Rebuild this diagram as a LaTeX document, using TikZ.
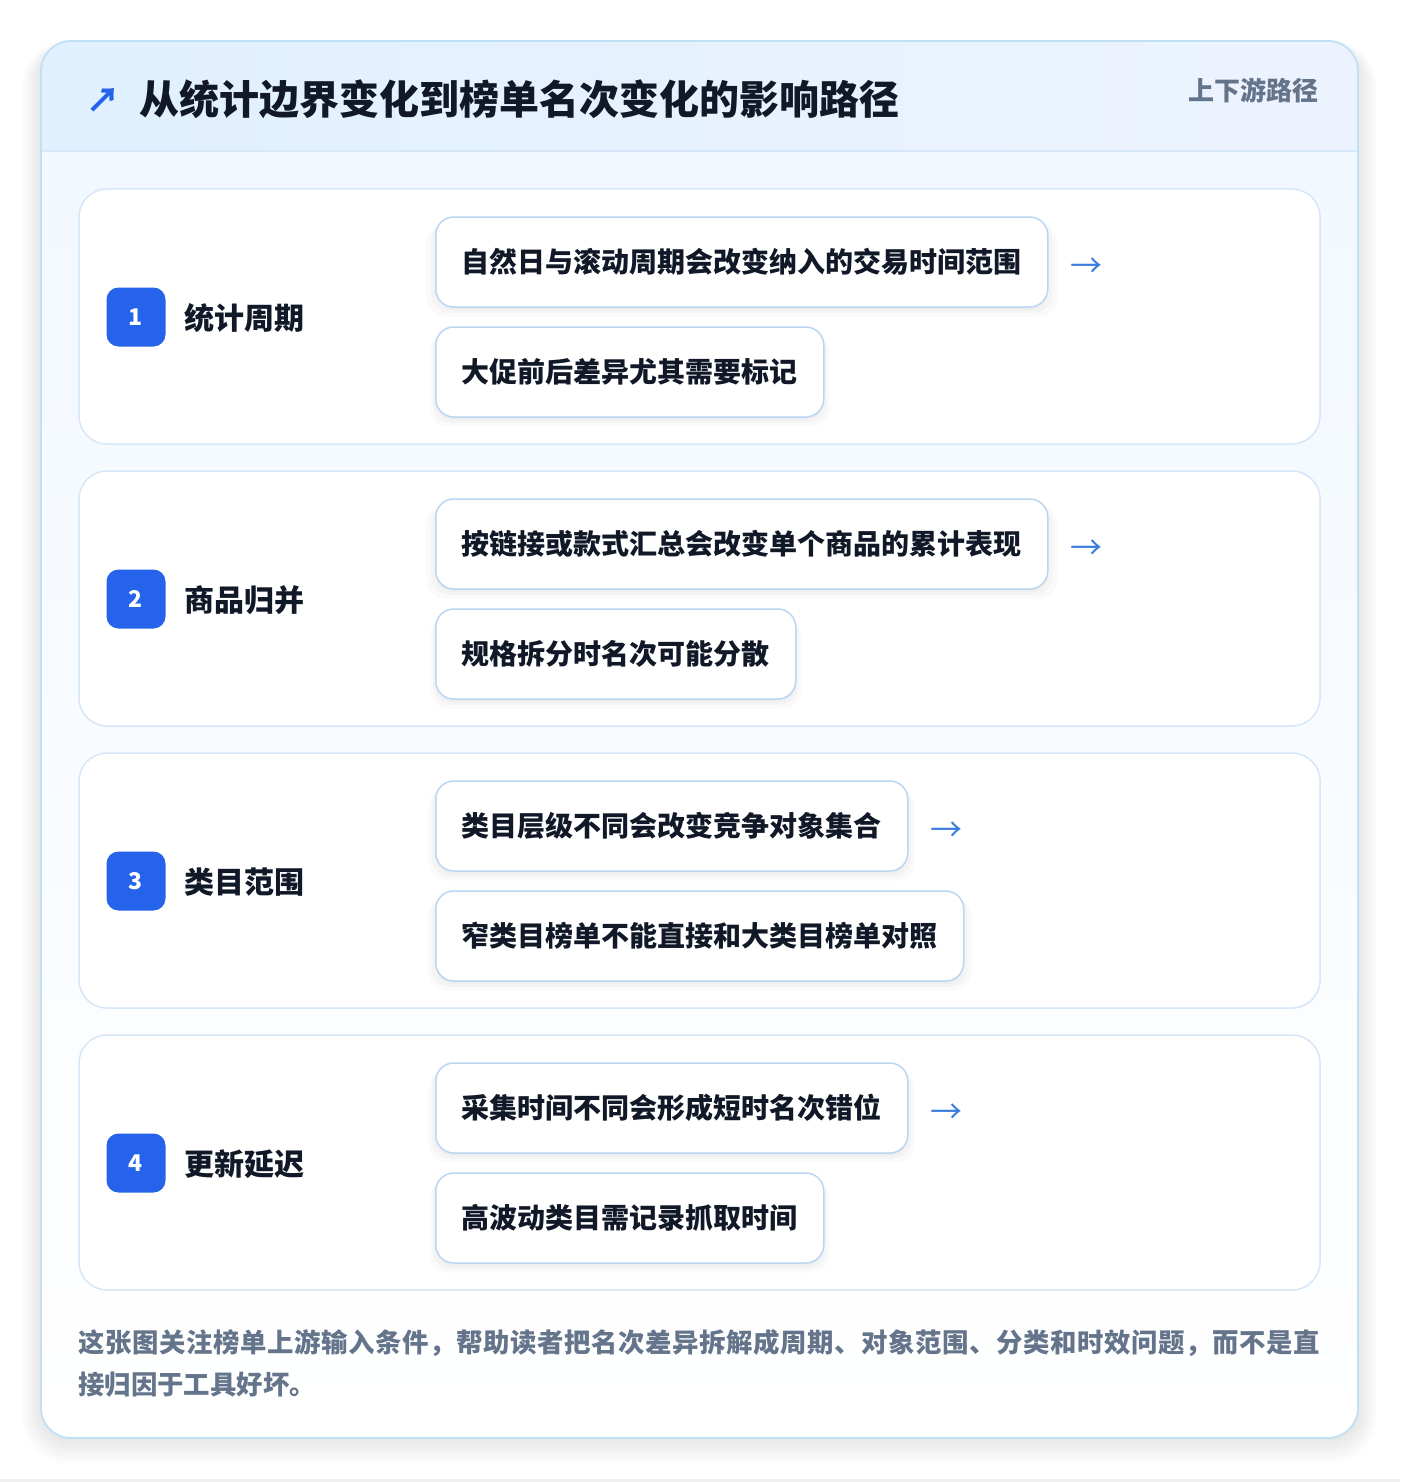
\documentclass[tikz,border=0pt]{standalone}
\usepackage{fontspec}
\setmainfont{Noto Sans CJK SC}
\usetikzlibrary{shadows}
\definecolor{cardborder}{HTML}{BFE1F6}
\definecolor{secborder}{HTML}{D5E7F8}
\definecolor{boxborder}{HTML}{BCD5F3}
\definecolor{badgeblue}{HTML}{2563EB}
\definecolor{arrowblue}{HTML}{3B7DDD}
\definecolor{darktext}{HTML}{111827}
\definecolor{greytext}{HTML}{64748B}
\definecolor{headL}{HTML}{E0F0FE}
\definecolor{headR}{HTML}{EDF3FE}
\definecolor{bodyTop}{HTML}{F2F8FF}
\tikzset{
  secbox/.style={draw=secborder, line width=1.5pt, fill=white, rounded corners=28pt},
  badge/.style={fill=badgeblue, rounded corners=12pt, minimum width=59pt, minimum height=59pt, text=white, font=\fontsize{23}{23}\selectfont\bfseries, inner sep=0pt},
  seclabel/.style={anchor=west, text=darktext, font=\fontsize{30}{30}\selectfont\bfseries, inner sep=0pt},
  softshadow/.style={
    general shadow={fill=black, opacity=0.018, shadow yshift=-8pt, shadow scale=1.03},
    general shadow={fill=black, opacity=0.022, shadow yshift=-5pt, shadow scale=1.015},
    general shadow={fill=black, opacity=0.025, shadow yshift=-3pt}},
  itembox/.style={anchor=west, draw=boxborder, line width=1.5pt, fill=white, rounded corners=18pt, minimum height=90pt, inner xsep=26pt, inner ysep=0pt, text=darktext, font=\fontsize{28}{28}\selectfont\bfseries, softshadow},
  arrowglyph/.style={anchor=west, text=arrowblue, font=\fontsize{32}{32}\selectfont, inner sep=0pt},
  foot/.style={anchor=west, text=greytext, inner sep=0pt},
}
\begin{document}
\begin{tikzpicture}[x=1pt,y=-1pt]
\useasboundingbox (0,0) rectangle (1400,1482);
\fill[white] (0,0) rectangle (1400,1482);
\fill[black!6] (0,1479) rectangle (1400,1482);
% outer card soft shadow
\foreach \s in {1,...,12} {
  \fill[black, opacity=0.009, rounded corners=30pt+\s*1.5pt] (41-\s*1.6,41-\s*0.6+6) rectangle (1358+\s*1.6,1438+\s*2.2);
}
\begin{scope}
  \clip[rounded corners=30pt] (41,41) rectangle (1358,1438);
  \shade[top color=bodyTop, bottom color=white] (41,151) rectangle (1358,1438);
  \shade[left color=headL, right color=headR] (41,41) rectangle (1358,151);
  \draw[secborder, line width=1.5pt] (41,151) -- (1358,151);
\end{scope}
\draw[cardborder, line width=1.8pt, rounded corners=30pt] (41,41) rectangle (1358,1438);
% header
\node[anchor=west, text=badgeblue, font=\fontsize{34}{34}\selectfont\bfseries, inner sep=0pt] (icon) at (86,100) {↗};
\node[anchor=west, text=darktext, font=\fontsize{40}{40}\selectfont\bfseries, inner sep=0pt] (title) at (139,99) {从统计边界变化到榜单名次变化的影响路径};
\node[anchor=east, text=greytext, font=\fontsize{26}{26}\selectfont\bfseries, inner sep=0pt] (tag) at (1319,90) {上下游路径};
% sections
\foreach \y in {189,471,753,1035} {
  \path[secbox] (79,\y) rectangle (1320,\y+255);
}
% section 1
\node[badge] (b1) at (136,317) {1};
\node[seclabel] (l1) at (184,318) {统计周期};
\node[itembox] (i11) at (435,262) {自然日与滚动周期会改变纳入的交易时间范围};
\node[itembox] (i12) at (435,372) {大促前后差异尤其需要标记};
\node[arrowglyph] (a1) at ([xshift=22pt,yshift=-6pt]i11.east) {→};
% section 2
\node[badge] (b2) at (136,599) {2};
\node[seclabel] (l2) at (184,600) {商品归并};
\node[itembox] (i21) at (435,544) {按链接或款式汇总会改变单个商品的累计表现};
\node[itembox] (i22) at (435,654) {规格拆分时名次可能分散};
\node[arrowglyph] (a2) at ([xshift=22pt,yshift=-6pt]i21.east) {→};
% section 3
\node[badge] (b3) at (136,881) {3};
\node[seclabel] (l3) at (184,882) {类目范围};
\node[itembox] (i31) at (435,826) {类目层级不同会改变竞争对象集合};
\node[itembox] (i32) at (435,936) {窄类目榜单不能直接和大类目榜单对照};
\node[arrowglyph] (a3) at ([xshift=22pt,yshift=-6pt]i31.east) {→};
% section 4
\node[badge] (b4) at (136,1163) {4};
\node[seclabel] (l4) at (184,1164) {更新延迟};
\node[itembox] (i41) at (435,1108) {采集时间不同会形成短时名次错位};
\node[itembox] (i42) at (435,1218) {高波动类目需记录抓取时间};
\node[arrowglyph] (a4) at ([xshift=22pt,yshift=-6pt]i41.east) {→};
% footer
\node[foot, font=\fontsize{26.4}{26.4}\selectfont\bfseries\addfontfeature{LetterSpace=2.3}] (f1) at (78,1343) {这张图关注榜单上游输入条件，帮助读者把名次差异拆解成周期、对象范围、分类和时效问题，而不是直};
\node[foot, font=\fontsize{26.4}{26.4}\selectfont\bfseries] (f2) at (78,1385) {接归因于工具好坏。};
\end{tikzpicture}
\end{document}
